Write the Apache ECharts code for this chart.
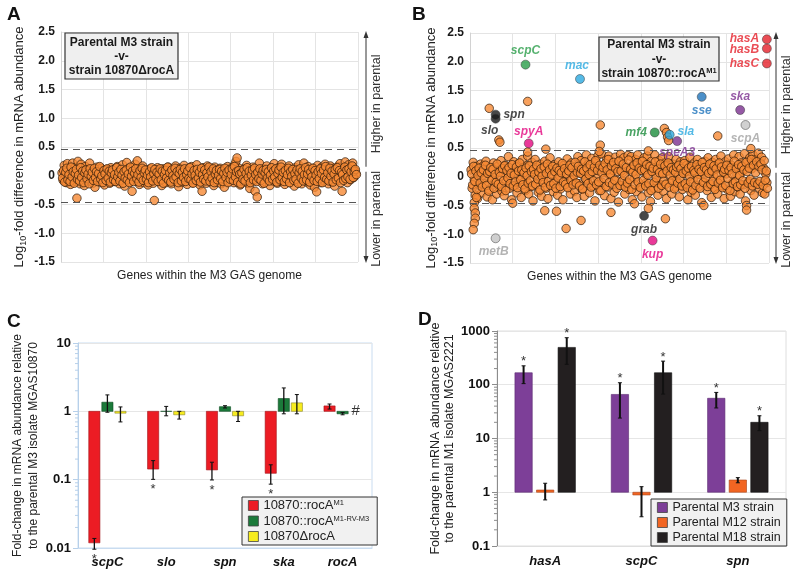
<!DOCTYPE html>
<html><head><meta charset="utf-8">
<script src="https://cdn.jsdelivr.net/npm/echarts@6/dist/echarts.min.js"></script>
<style>html,body{margin:0;padding:0;background:#fff}#c{width:800px;height:575px}</style>
</head><body><div id="c"></div>
<script>
const FONT = '"Liberation Sans", Arial, Helvetica, sans-serif';

// ---------- Panel A: log10 fold difference, parental vs 10870ΔrocA (genes in genome order)
const genesA = [
0.05,-0.08,0.18,0.02,-0.12,0.21,-0.03,0.11,-0.15,0.08,
0.22,-0.06,0.14,-0.1,-0.39,0.25,0.03,-0.14,0.2,-0.02,
0.09,-0.17,0.16,0.04,-0.09,0.12,0.22,-0.05,0.07,-0.13,
0.1,-0.2,0.01,0.15,-0.07,0.06,-0.11,0.13,-0.04,0.09,
-0.16,0.05,0.11,-0.08,0.02,-0.13,0.14,-0.02,0.07,-0.1,
0.12,-0.05,0.16,0.0,-0.14,0.1,-0.07,0.19,0.03,-0.18,
0.08,0.23,-0.06,0.13,-0.11,0.05,-0.27,0.15,-0.03,0.2,
-0.09,0.26,0.02,-0.15,0.11,-0.04,0.17,-0.12,0.06,-0.01,
0.09,-0.16,0.04,0.12,-0.08,0.07,-0.13,-0.43,0.1,-0.05,
0.14,-0.1,0.03,0.08,-0.17,0.12,-0.02,0.06,-0.12,0.1,
0.15,-0.07,0.01,-0.14,0.11,0.05,-0.09,0.17,-0.04,0.09,
-0.19,0.13,0.02,-0.11,0.08,0.18,-0.06,0.04,-0.15,0.12,
0.07,-0.03,0.16,-0.12,0.1,-0.08,0.05,0.19,-0.1,0.03,
-0.16,0.11,-0.27,0.14,-0.05,0.08,-0.13,0.17,0.01,-0.09,
0.12,-0.04,0.06,-0.17,0.15,0.02,-0.11,0.09,-0.06,0.13,
-0.14,0.07,0.04,-0.2,0.11,-0.03,0.16,-0.1,0.08,-0.07,
0.14,0.02,-0.12,0.2,0.25,0.31,-0.05,0.13,-0.16,0.09,
0.04,-0.1,0.12,-0.02,0.18,-0.13,0.06,-0.22,0.1,-0.06,
0.15,-0.09,-0.27,0.08,-0.37,0.11,0.22,-0.04,0.07,-0.14,
0.12,0.01,-0.11,0.17,-0.07,0.05,-0.17,0.13,0.03,-0.09,
0.21,-0.05,0.09,-0.13,0.14,0.0,-0.1,0.2,-0.03,0.08,
-0.15,0.12,0.05,-0.08,0.17,-0.12,0.1,-0.02,0.06,-0.18,
0.14,0.03,-0.1,0.19,-0.06,0.08,-0.14,0.11,0.22,-0.04,
0.07,-0.11,0.16,0.02,-0.16,0.1,-0.07,0.13,-0.2,0.05,
-0.28,0.18,-0.03,0.09,-0.12,0.15,0.04,-0.09,0.2,-0.05,
0.11,-0.14,0.07,0.17,-0.1,0.02,0.13,-0.18,0.08,-0.02,
0.16,-0.08,0.21,0.05,-0.27,0.12,-0.04,0.24,0.1,-0.12,
0.19,0.06,-0.07,0.15,0.22,-0.03,0.09,0.04
];
// interleaved genes (between the ones above)
const genesA2 = [
-0.04,0.09,-0.11,0.06,0.13,-0.07,0.02,-0.1,0.15,-0.02,
0.07,-0.13,0.04,0.11,-0.06,0.01,-0.09,0.14,-0.03,0.08,
-0.12,0.05,0.1,-0.05,0.03,-0.14,0.12,-0.01,0.06,-0.08,
0.13,-0.03,0.07,-0.1,0.04,0.16,-0.06,0.0,-0.12,0.09,
0.03,-0.08,0.12,-0.04,0.08,-0.11,0.05,0.1,-0.07,0.02,
-0.1,0.14,-0.02,0.06,-0.09,0.11,0.01,-0.13,0.07,-0.04,
0.1,-0.07,0.03,-0.12,0.15,-0.01,0.08,-0.1,0.04,0.12,
-0.05,0.02,-0.11,0.09,-0.03,0.13,-0.08,0.05,0.1,-0.06,
0.01,-0.12,0.07,-0.02,0.14,-0.09,0.04,0.11,-0.05,0.06,
-0.1,0.03,0.12,-0.07,0.08,-0.13,0.02,0.09,-0.04,0.15,
-0.08,0.05,-0.11,0.1,0.0,-0.06,0.13,-0.02,0.07,-0.12,
0.04,0.11,-0.09,0.06,-0.03,0.12,-0.1,0.02,0.08,-0.05,
0.14,-0.07,0.03,-0.13,0.09,0.01,-0.08,0.11,-0.04,0.06,
-0.11,0.13,0.02,-0.06,0.1,-0.09,0.05,-0.02,0.15,-0.1,
0.07,-0.04,0.12,-0.12,0.03,0.09,-0.07,0.01,0.11,-0.05,
0.08,-0.1,0.04,0.13,-0.03,0.06,-0.12,0.1,-0.06,0.02,
0.12,-0.08,0.16,-0.02,0.07,-0.11,0.09,0.03,-0.14,0.05,
-0.06,0.11,-0.09,0.04,0.14,-0.03,0.08,-0.12,0.01,0.1,
-0.07,0.13,0.02,-0.1,0.06,-0.05,0.12,-0.08,0.03,0.09,
-0.13,0.05,0.11,-0.04,0.07,-0.09,0.01,0.14,-0.06,0.08,
-0.02,0.12,-0.11,0.04,0.1,-0.07,0.15,-0.03,0.06,-0.1,
0.09,-0.05,0.02,0.13,-0.12,0.07,-0.01,0.11,-0.08,0.04,
-0.06,0.1,-0.13,0.05,0.12,-0.04,0.08,-0.09,0.02,0.14,
-0.07,0.03,0.11,-0.11,0.06,-0.02,0.13,-0.08,0.09,0.01,
-0.1,0.07,-0.05,0.12,0.04,-0.12,0.1,-0.03,0.16,-0.06,
0.05,-0.09,0.13,-0.01,0.08,-0.11,0.03,0.11,-0.07,0.14,
-0.04,0.09,-0.12,0.06,0.02,-0.08,0.15,-0.05,0.1,-0.02,
0.12,-0.06,0.07,0.17,-0.03,0.08,0.11,0.02
];

// ---------- Panel B: parental vs 10870::rocA M1
const genesB = [
0.12,-0.2,0.25,-0.05,-0.32,0.18,-0.38,0.08,-0.15,0.22,
-0.28,0.03,0.2,-0.12,0.27,-0.35,0.1,-0.22,0.15,-0.02,
-0.4,0.24,-0.1,0.05,-0.3,0.18,-0.18,0.12,0.28,-0.25,
0.06,-0.33,0.2,-0.08,0.15,0.35,-0.2,0.02,-0.4,0.1,
0.26,-0.15,0.08,-0.28,0.22,-0.05,0.14,-0.36,0.3,-0.1,
0.04,-0.24,0.19,0.36,-0.3,0.11,-0.17,0.25,-0.42,0.07,
0.3,-0.12,0.16,-0.27,0.02,0.22,-0.34,0.13,-0.06,0.27,
-0.2,0.09,-0.38,0.18,0.33,-0.14,0.05,-0.26,0.21,-0.08,
0.15,-0.32,0.26,0.01,-0.21,0.12,-0.4,0.2,-0.1,0.06,
0.31,-0.18,0.14,-0.3,0.24,-0.04,0.09,-0.25,0.18,-0.36,
0.35,-0.12,0.1,0.28,-0.22,0.03,-0.34,0.17,0.38,-0.07,
0.22,-0.28,0.06,0.32,-0.16,0.12,-0.42,0.26,-0.02,0.37,
-0.24,0.14,0.4,-0.1,0.2,-0.33,0.08,0.3,-0.18,0.36,
0.02,-0.38,0.24,0.11,-0.27,0.34,-0.06,0.18,-0.44,0.28,
0.39,-0.15,0.07,0.33,-0.3,0.16,-0.09,0.37,-0.22,0.12,
0.35,-0.4,0.21,-0.03,0.3,-0.26,0.38,0.1,-0.17,0.25,
-0.35,0.15,0.33,-0.12,0.04,0.36,-0.28,0.2,-0.43,0.27,
0.09,-0.2,0.38,-0.07,0.17,-0.32,0.28,0.13,-0.14,0.33,
-0.25,0.06,0.24,-0.38,0.19,0.35,-0.1,0.14,-0.3,0.22,
0.02,-0.18,0.3,-0.08,0.16,-0.35,0.26,0.11,-0.22,0.05,
0.28,-0.14,0.2,-0.4,0.09,0.34,-0.27,0.15,-0.05,0.24,
-0.32,0.12,0.3,-0.18,0.04,0.21,-0.45,0.17,-0.09,0.27,
0.08,-0.24,0.33,-0.13,0.19,-0.36,0.25,0.02,-0.2,0.3,
0.14,-0.3,0.22,-0.06,0.36,-0.16,0.1,-0.38,0.26,0.05,
-0.22,0.31,0.12,-0.34,0.2,-0.1,0.38,-0.26,0.16,0.03,
-0.18,0.35,-0.3,0.24,0.09,-0.14,0.4,-0.42,0.18,0.27,
-0.08,0.33,-0.24,0.14,0.38,-0.32,0.2,0.3,-0.12,0.41,
-0.2,0.25,0.34,-0.28,0.15,-0.3,0.05,-0.1
];
const genesB2 = [
0.05,-0.14,0.18,-0.08,0.1,-0.22,0.02,0.15,-0.11,0.07,
-0.18,0.12,-0.03,0.2,-0.15,0.06,-0.25,0.09,0.16,-0.06,
0.13,-0.2,0.04,-0.1,0.22,-0.13,0.08,0.01,-0.17,0.14,
-0.07,0.19,-0.24,0.11,-0.02,0.16,-0.12,0.06,0.21,-0.16,
0.03,-0.09,0.17,-0.19,0.1,0.24,-0.05,0.12,-0.14,0.07,
-0.21,0.15,0.02,-0.11,0.19,-0.07,0.09,-0.16,0.13,0.04,
-0.13,0.2,-0.04,0.08,-0.23,0.14,0.01,-0.1,0.17,-0.18,
0.06,0.22,-0.08,0.12,-0.15,0.03,0.18,-0.12,0.09,-0.2,
0.15,-0.02,0.11,-0.17,0.07,0.23,-0.09,0.14,-0.13,0.05,
-0.19,0.1,0.2,-0.06,0.16,-0.14,0.02,0.25,-0.11,0.08,
0.18,-0.16,0.06,0.13,-0.21,0.1,0.26,-0.04,0.15,-0.12,
0.04,0.21,-0.18,0.09,-0.07,0.17,0.28,-0.14,0.11,-0.09,
0.2,-0.24,0.07,0.16,-0.03,0.23,-0.17,0.12,0.3,-0.1,
0.05,0.19,-0.13,0.25,-0.06,0.14,-0.2,0.09,0.27,-0.15,
0.1,-0.08,0.22,0.02,-0.18,0.16,-0.11,0.29,-0.05,0.13,
-0.22,0.08,0.2,-0.14,0.04,0.24,-0.09,0.15,-0.19,0.11,
0.27,-0.06,0.12,-0.16,0.21,0.03,-0.12,0.18,-0.24,0.09,
0.15,-0.1,0.26,-0.02,0.13,-0.2,0.07,0.22,-0.15,0.05,
-0.08,0.19,-0.13,0.1,0.24,-0.18,0.03,0.16,-0.07,0.12,
-0.21,0.08,0.17,-0.11,0.2,-0.04,0.14,-0.16,0.06,0.23,
-0.12,0.1,-0.19,0.15,0.01,-0.09,0.18,-0.23,0.11,0.07,
-0.15,0.21,-0.05,0.13,-0.2,0.09,0.25,-0.1,0.16,-0.02,
0.12,-0.17,0.06,0.22,-0.13,0.1,-0.08,0.19,-0.22,0.14,
0.03,-0.11,0.24,-0.06,0.17,-0.19,0.08,0.13,-0.15,0.2,
-0.03,0.11,-0.24,0.16,0.05,-0.12,0.27,-0.09,0.14,-0.17,
0.21,0.02,-0.14,0.18,-0.07,0.12,-0.2,0.25,0.09,-0.11,
0.15,-0.05,0.3,-0.16,0.2,-0.1,0.07,0.26,-0.13,0.18,
-0.08,0.22,0.12,-0.15,0.28,-0.06,0.1,-0.2
];
const outliersBX = [18,27,28,54,54,71,122,122,121,182,184,185,186,167,232,263,
  4,4,5,5,4,3,6,40,70,81,90,104,132,154,167,183,219,259,259];
const outliersBY = [1.19,0.64,0.6,1.31,0.43,0.48,0.90,0.55,0.44,0.84,0.77,0.69,0.63,0.45,0.71,0.49,
  -0.45,-0.55,-0.63,-0.72,-0.81,-0.92,-0.36,-0.46,-0.59,-0.6,-0.9,-0.76,-0.62,-0.47,-0.55,-0.73,-0.5,-0.5,-0.58];
const labelledGenesB = ['scpC','mac','spn','slo','spyA','mf4','sla','speA3','sse','ska','scpA','hasA','hasB','hasC','grab','kup','metB'];
const labelledXB = [52,103,24,24,55,173,187,194,217,253,258,278,278,278,163,171,24];
const labelledYB = [1.95,1.70,1.08,1.01,0.58,0.77,0.73,0.62,1.39,1.16,0.90,2.39,2.23,1.97,-0.68,-1.11,-1.07];
const thresholds = [0.46, -0.46];
const scatterYMin = -1.5, scatterYMax = 2.5, geneAxisMax = 280;

// ---------- Panel C
const catsC = ['scpC','slo','spn','ska','rocA'];
const rocaM1   = [0.0119, 0.143, 0.139, 0.124, 1.2];
const rocaM1Lo = [0.0096, 0.101, 0.099, 0.086, 1.08];
const rocaM1Hi = [0.0138, 0.19, 0.18, 0.165, 1.28];
const rvM3   = [1.36, 1.0, 1.17, 1.54, 0.92];
const rvM3Lo = [0.97, 0.86, 1.12, 0.92, 0.89];
const rvM3Hi = [1.74, 1.18, 1.21, 2.2, 0.96];
const delRocA   = [0.94, 0.89, 0.86, 1.33, null];
const delRocALo = [0.70, 0.77, 0.71, 0.92, null];
const delRocAHi = [1.16, 1.0, 1.0, 1.76, null];
const starsC = ['*','*','*','*',''];
const notesDel = ['','','','','#'];
const minorTicksC = [0.02,0.03,0.04,0.05,0.06,0.07,0.08,0.09,0.2,0.3,0.4,0.5,0.6,0.7,0.8,0.9,2,3,4,5,6,7,8,9];

// ---------- Panel D
const catsD = ['hasA','scpC','spn'];
const m3   = [167, 66, 56];
const m3Lo = [105, 24, 37];
const m3Hi = [225, 109, 72];
const m12   = [1.1, 0.89, 1.69];
const m12Lo = [0.72, 0.35, 1.5];
const m12Hi = [1.47, 1.27, 1.87];
const m18   = [495, 167, 20];
const m18Lo = [240, 67, 14];
const m18Hi = [750, 275, 26.5];
const starsD = ['*','*','*'];
const minorTicksD = [0.2,0.3,0.4,0.5,0.6,0.7,0.8,0.9,2,3,4,5,6,7,8,9,20,30,40,50,60,70,80,90,200,300,400,500,600,700,800,900];

// ---------- styles
const geneStyle = {
  scpC:{c:'#2a9d4a', lc:'#2a9d4a', pos:'top', off:[0,0]},
  mac:{c:'#2aa9e0', lc:'#2aa9e0', pos:'top', off:[-3,0]},
  spn:{c:'#1a1a1a', lc:'#1a1a1a', pos:'right', off:[0,0]},
  slo:{c:'#1a1a1a', lc:'#1a1a1a', pos:'bottom', off:[-6,-2]},
  spyA:{c:'#e4087f', lc:'#e4087f', pos:'top', off:[0,2]},
  mf4:{c:'#1c8c3c', lc:'#1c8c3c', pos:'left', off:[0,0]},
  sla:{c:'#2aa9e0', lc:'#2aa9e0', pos:'right', off:[0,-3]},
  speA3:{c:'#7b2f8f', lc:'#7b2f8f', pos:'bottom', off:[0,-2]},
  sse:{c:'#1f74bb', lc:'#1f74bb', pos:'bottom', off:[0,0]},
  ska:{c:'#7b2f8f', lc:'#7b2f8f', pos:'top', off:[0,0]},
  scpA:{c:'#c6c6c6', lc:'#a3a3a3', pos:'bottom', off:[0,0]},
  hasA:{c:'#e5202a', lc:'#e5202a', pos:'left', off:[0,-1]},
  hasB:{c:'#e5202a', lc:'#e5202a', pos:'left', off:[0,1]},
  hasC:{c:'#e5202a', lc:'#e5202a', pos:'left', off:[0,0]},
  grab:{c:'#1a1a1a', lc:'#1a1a1a', pos:'bottom', off:[0,0]},
  kup:{c:'#e4087f', lc:'#e4087f', pos:'bottom', off:[0,0]},
  metB:{c:'#c3c3c3', lc:'#a0a0a0', pos:'bottom', off:[-2,0]}
};
const orangeItem = {color:'#f68a35', borderColor:'#2e1a0a', borderWidth:0.9};

const chart = echarts.init(document.getElementById('c'));

const scatterY = (gi) => ({
  type:'value', gridIndex:gi, min:scatterYMin, max:scatterYMax, interval:0.5,
  axisLine:{show:true, lineStyle:{color:'#d2d2d2'}}, axisTick:{show:false},
  splitLine:{lineStyle:{color:'#e4e4e4'}},
  axisLabel:{fontFamily:FONT, fontWeight:'bold', fontSize:12, color:'#1a1a1a', margin:6,
    formatter: v => v === 0 ? '0' : v.toFixed(1)},
  name:'{a|Log}{b|10}{a|-fold difference in mRNA abundance}', nameLocation:'middle', nameRotate:90,
  nameGap: gi === 0 ? 33 : 29,
  nameTextStyle:{rich:{a:{fontFamily:FONT, fontSize:13, color:'#222', lineHeight:17},
                        b:{fontFamily:FONT, fontSize:9, color:'#222', lineHeight:10, verticalAlign:'bottom'}}}
});
const geneX = (gi) => ({
  type:'value', gridIndex:gi, min:0, max:geneAxisMax, interval:40,
  axisLabel:{show:false}, axisTick:{show:false}, axisLine:{show:true, lineStyle:{color:'#d2d2d2'}},
  splitLine:{show:true, lineStyle:{color:'#e4e4e4'}},
  name:'Genes within the M3 GAS genome', nameLocation:'middle', nameGap:8,
  nameTextStyle:{fontFamily:FONT, fontSize:12, color:'#222', verticalAlign:'top'}
});
const thresholdLine = {
  silent:true, symbol:['none','none'], label:{show:false},
  lineStyle:{type:[7,5], color:'#555', width:1},
  data: thresholds.map(v => ({yAxis:v}))
};
const logFmt = v => String(Number(v.toPrecision(6)));

function barSeries(name, ai, vals, los, his, slot, wFrac, fill, stroke, errW, marks, markSide) {
  return {
    type:'custom', name, xAxisIndex:ai, yAxisIndex:ai, coordinateSystem:'cartesian2d',
    itemStyle:{color:fill, borderColor:stroke, borderWidth:0.6},
    encode:{x:0, y:1},
    data: vals.map((v, i) => [i, v == null ? 1 : v, los[i] == null ? 1 : los[i], his[i] == null ? 1 : his[i], v == null ? 1 : 0]),
    renderItem(params, api) {
      const ci = api.value(0), v = api.value(1), lo = api.value(2), hi = api.value(3), missing = api.value(4);
      const band = api.size([1, 0])[0];
      const base = api.coord([ci, 1]);
      const cx = base[0] + slot * band, w = band * wFrac;
      const mark = marks ? marks[ci] : '';
      const ch = [];
      if (!missing) {
        const p = api.coord([ci, v]);
        const pl = api.coord([ci, lo]), ph = api.coord([ci, hi]);
        ch.push({type:'rect', shape:{x:cx - w/2, y:Math.min(base[1], p[1]), width:w, height:Math.abs(p[1] - base[1])},
                 style:{fill, stroke, lineWidth:0.6}});
        ch.push({type:'line', shape:{x1:cx, y1:pl[1], x2:cx, y2:ph[1]}, style:{stroke:'#111', lineWidth:errW}});
        ch.push({type:'line', shape:{x1:cx-2, y1:pl[1], x2:cx+2, y2:pl[1]}, style:{stroke:'#111', lineWidth:1}});
        ch.push({type:'line', shape:{x1:cx-2, y1:ph[1], x2:cx+2, y2:ph[1]}, style:{stroke:'#111', lineWidth:1}});
        if (mark) {
          const yy = markSide === 'below' ? pl[1] + 10 : ph[1] - 4;
          ch.push({type:'text', style:{text:mark, x:cx, y:yy, align:'center', verticalAlign:'middle',
                   fontSize:13, fill:'#333', fontFamily:FONT}});
        }
      } else if (mark) {
        ch.push({type:'text', style:{text:mark, x:cx, y:base[1], align:'center', verticalAlign:'middle',
                 fontSize:15, fill:'#333', fontFamily:FONT}});
      }
      return {type:'group', children:ch};
    }
  };
}
function minorTickSeries(ai, values, color) {
  return {
    type:'custom', xAxisIndex:ai, yAxisIndex:ai, coordinateSystem:'cartesian2d', silent:true,
    encode:{x:0, y:1}, data: values.map(v => [0, v]),
    renderItem(params, api) {
      const band = api.size([1, 0])[0];
      const p = api.coord([0, api.value(1)]);
      const x0 = p[0] - band / 2;
      return {type:'line', shape:{x1:x0 - 3, y1:p[1], x2:x0, y2:p[1]}, style:{stroke:color, lineWidth:1}};
    }
  };
}

const legendNames = {
  rocaM1:'10870::rocA{s|M1}', rvM3:'10870::rocA{s|M1-RV-M3}', delRocA:'10870\u0394rocA',
  m3:'Parental M3 strain', m12:'Parental M12 strain', m18:'Parental M18 strain'
};

const option = {
  animation:false,
  backgroundColor:'#fff',
  textStyle:{fontFamily:FONT},
  title:[
    {text:'A', left:7, top:5},
    {text:'B', left:412, top:5},
    {text:'C', left:7, top:312},
    {text:'D', left:418, top:310}
  ].map(t => Object.assign(t, {padding:0, textStyle:{fontFamily:FONT, fontWeight:'bold', fontSize:19, color:'#111'}})),
  grid:[
    {left:61, top:32, width:297, height:230},
    {left:470, top:33, width:299, height:230},
    {left:78, top:343, width:294, height:205, show:true, borderColor:'#c9dcf0', borderWidth:1},
    {left:497, top:331, width:289, height:215, show:true, borderColor:'#dedede', borderWidth:1}
  ],
  xAxis:[
    geneX(0), geneX(1),
    {type:'category', gridIndex:2, data:catsC, axisTick:{show:false},
     axisLine:{lineStyle:{color:'#c9dcf0'}},
     axisLabel:{fontFamily:FONT, fontWeight:'bold', fontStyle:'italic', fontSize:13, color:'#111', margin:8}},
    {type:'category', gridIndex:3, data:catsD, axisTick:{show:false},
     axisLine:{lineStyle:{color:'#dedede'}},
     axisLabel:{fontFamily:FONT, fontWeight:'bold', fontStyle:'italic', fontSize:13, color:'#111', margin:9}}
  ],
  yAxis:[
    scatterY(0), scatterY(1),
    {type:'log', logBase:10, gridIndex:2, min:0.01, max:10,
     axisLine:{show:true, lineStyle:{color:'#b7d0ea'}}, axisTick:{show:true, length:5, lineStyle:{color:'#b7d0ea'}},
     splitLine:{lineStyle:{color:'#e6e6e6'}},
     axisLabel:{fontFamily:FONT, fontWeight:'bold', fontSize:13, color:'#111', margin:7, formatter:logFmt},
     name:'Fold-change in mRNA abundance relative\nto the parental M3 isolate MGAS10870',
     nameLocation:'middle', nameRotate:90, nameGap:31,
     nameTextStyle:{fontFamily:FONT, fontSize:12, color:'#222', lineHeight:16}},
    {type:'log', logBase:10, gridIndex:3, min:0.1, max:1000,
     axisLine:{show:true, lineStyle:{color:'#8c8c8c'}}, axisTick:{show:true, length:5, lineStyle:{color:'#8c8c8c'}},
     splitLine:{lineStyle:{color:'#e6e6e6'}},
     axisLabel:{fontFamily:FONT, fontWeight:'bold', fontSize:13, color:'#111', margin:7, formatter:logFmt},
     name:'Fold-change in mRNA abundance relative\nto the parental M1 isolate MGAS2221',
     nameLocation:'middle', nameRotate:90, nameGap:39,
     nameTextStyle:{fontFamily:FONT, fontSize:12.5, color:'#222', lineHeight:14.5}}
  ],
  legend:[
    {data:['rocaM1','rvM3','delRocA'], left:242, top:497, orient:'vertical', icon:'rect',
     itemWidth:10, itemHeight:10, itemGap:2.5, padding:[2,8,2,6], backgroundColor:'#f1f1f1',
     borderColor:'#333', borderWidth:1, borderRadius:0, selectedMode:false,
     itemStyle:{borderColor:'#444', borderWidth:0.8},
     formatter: n => legendNames[n],
     textStyle:{fontFamily:FONT, fontSize:13, color:'#222', lineHeight:13,
       rich:{s:{fontFamily:FONT, fontSize:7.5, color:'#222', verticalAlign:'top', lineHeight:8}}}},
    {data:['m3','m12','m18'], left:651, top:499, orient:'vertical', icon:'rect',
     itemWidth:10, itemHeight:10, itemGap:2, padding:[2,6,2,6], backgroundColor:'#f1f1f1',
     borderColor:'#333', borderWidth:1, borderRadius:0, selectedMode:false,
     itemStyle:{borderColor:'#444', borderWidth:0.8},
     formatter: n => legendNames[n],
     textStyle:{fontFamily:FONT, fontSize:12.5, color:'#222', lineHeight:13}}
  ],
  series:[
    {type:'scatter', xAxisIndex:0, yAxisIndex:0, symbolSize:8.5, itemStyle:orangeItem,
     data: genesA.map((v, i) => [i + 1, v]).concat(genesA2.map((v, i) => [i + 1.5, v])), markLine:thresholdLine, z:3},
    {type:'scatter', xAxisIndex:1, yAxisIndex:1, symbolSize:8.5, itemStyle:orangeItem,
     data: genesB.map((v, i) => [i + 1, v]).concat(genesB2.map((v, i) => [i + 1.5, v])), markLine:thresholdLine, z:3},
    {type:'scatter', xAxisIndex:1, yAxisIndex:1, symbolSize:8.5, itemStyle:orangeItem,
     data: outliersBX.map((x, i) => [x, outliersBY[i]]), z:3},
    {type:'scatter', xAxisIndex:1, yAxisIndex:1, symbolSize:9, z:4,
     data: labelledGenesB.map((g, i) => {
       const s = geneStyle[g];
       return {name:g, value:[labelledXB[i], labelledYB[i]],
         itemStyle:{color:s.c, borderColor:'#333', borderWidth:0.6},
         label:{show:true, formatter:g, position:s.pos, distance:3, offset:s.off, color:s.lc,
           fontFamily:FONT, fontSize:12, fontWeight:'bold', fontStyle:'italic'}};
     })},
    barSeries('rocaM1', 2, rocaM1, rocaM1Lo, rocaM1Hi, -0.222, 0.19, '#ec1c24', '#a01016', 1.3, starsC, 'below'),
    barSeries('rvM3', 2, rvM3, rvM3Lo, rvM3Hi, 0, 0.19, '#1b7a3a', '#0f4d24', 1.3, null, null),
    barSeries('delRocA', 2, delRocA, delRocALo, delRocAHi, 0.222, 0.19, '#f7ec1e', '#8a8430', 1.3, notesDel, 'none'),
    minorTickSeries(2, minorTicksC, '#b7d0ea'),
    barSeries('m3', 3, m3, m3Lo, m3Hi, -0.224, 0.18, '#7d3f98', '#5a2a70', 2, starsD, 'above'),
    barSeries('m12', 3, m12, m12Lo, m12Hi, 0, 0.18, '#f26522', '#a8431a', 2, null, null),
    barSeries('m18', 3, m18, m18Lo, m18Hi, 0.224, 0.18, '#231f20', '#111', 2, starsD, 'above'),
    minorTickSeries(3, minorTicksD, '#8c8c8c')
  ]
};
chart.setOption(option);

function sideArrow(yi, x, tx) {
  const px = v => chart.convertToPixel({yAxisIndex:yi}, v);
  const yT = px(scatterYMax), yB = px(scatterYMin), y0 = px(0);
  const st = {stroke:'#333', lineWidth:1};
  const txt = {x:0, y:0, align:'center', verticalAlign:'middle', fontSize:12.5, fill:'#333', fontFamily:FONT};
  return [
    {type:'line', shape:{x1:x, y1:yT + 4, x2:x, y2:y0 - 9}, style:st},
    {type:'polygon', shape:{points:[[x, yT - 1], [x - 2.5, yT + 6], [x + 2.5, yT + 6]]}, style:{fill:'#333'}},
    {type:'line', shape:{x1:x, y1:y0 - 4, x2:x, y2:yB - 4}, style:st},
    {type:'polygon', shape:{points:[[x, yB + 1], [x - 2.5, yB - 6], [x + 2.5, yB - 6]]}, style:{fill:'#333'}},
    {type:'text', x:tx, y:px(1.25), rotation:Math.PI / 2, style:Object.assign({text:'Higher in parental'}, txt)},
    {type:'text', x:tx, y:px(-0.75), rotation:Math.PI / 2, style:Object.assign({text:'Lower in parental'}, txt)}
  ];
}
const boxText = {align:'center', verticalAlign:'middle', fill:'#1a1a1a', fontFamily:FONT};
chart.setOption({
  graphic:[
    ...sideArrow(0, 366, 377),
    ...sideArrow(1, 776, 787),
    {type:'rect', shape:{x:65, y:33, width:113, height:46}, style:{fill:'#efefef', stroke:'#333', lineWidth:1.2}, z:10},
    {type:'text', x:121.5, y:56.5, z:11, style:Object.assign({text:'Parental M3 strain\n-v-\nstrain 10870\u0394rocA',
      fontSize:12, fontWeight:'bold', lineHeight:14}, boxText)},
    {type:'rect', shape:{x:599, y:37, width:120, height:44}, style:{fill:'#efefef', stroke:'#333', lineWidth:1.2}, z:10},
    {type:'text', x:659, y:59.5, z:11, style:Object.assign({
      text:'{b|Parental M3 strain}\n{b|-v-}\n{b|strain 10870::rocA}{s|M1}',
      rich:{b:{fontSize:12, fontWeight:'bold', lineHeight:14.5, fontFamily:FONT, fill:'#1a1a1a'},
            s:{fontSize:7.5, fontWeight:'bold', lineHeight:9, verticalAlign:'top', fontFamily:FONT, fill:'#1a1a1a'}}}, boxText)}
  ]
});
</script>
</body></html>
